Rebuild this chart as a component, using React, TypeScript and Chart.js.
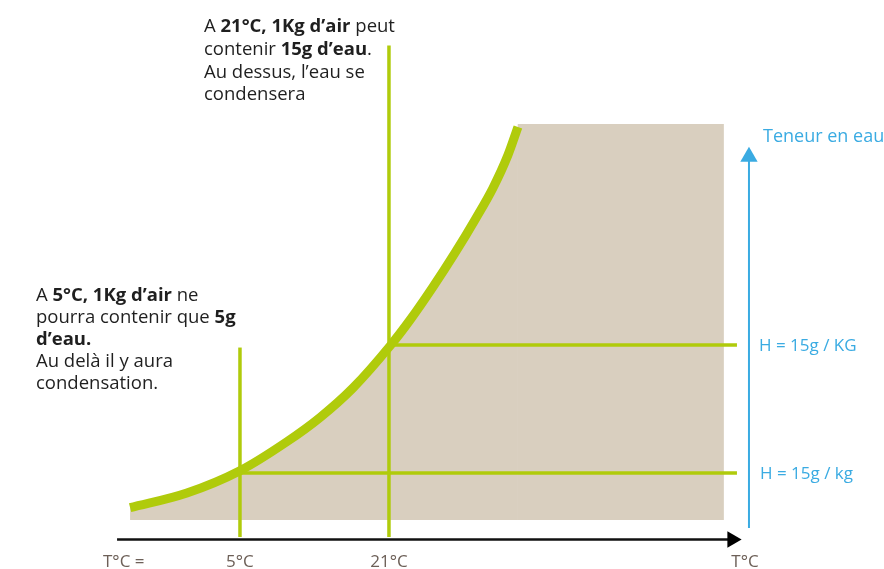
import React, { useEffect, useRef } from "react";
import { Chart, registerables } from "chart.js";

Chart.register(...registerables);

// Saturation curve: temperature (°C) vs max water content (g / kg of air)
const curveTemps = [-6.8, -0.7, 5.0, 10.05, 13.6, 17.13, 21.2, 23.26, 25.72, 28.09, 30.23, 32.17, 33.78, 34.85];
const curveWater = [2.29, 3.44, 5.18, 7.45, 9.34, 11.64, 15.0, 16.95, 19.53, 22.19, 24.77, 27.27, 29.84, 32.03];

// Reference temperatures and their water content
const refTemps = [5, 21];
const refWater = [5, 15];
const refTopWater = [14.8, 38.4];

// Condensation zone limits
const zoneTopWater = 32.27;
const zoneRightTemp = 56.97;
const zoneBottomWater = 1.33;

// Axes (arrows)
const axisStartTemp = -8.2;
const axisEndTemp = 57.8;
const axisTipTemp = 58.8;
const axisWater = -0.2;
const waterAxisTemp = 59.66;
const waterAxisBottom = 0.7;
const waterAxisTop = 29.7;
const lineEndTemp = 58.37;

// Tick labels
const tickTemps = [5, 21];
const tickLabels = ["5°C", "21°C"];
const axisStartLabel = "T°C =";
const axisEndLabel = "T°C";
const waterAxisLabel = "Teneur en eau";
const waterLabels = ["H = 15g / KG", "H = 15g / kg"];

// Annotations: [text, bold]
const topNote: [string, boolean][][] = [
  [["A ", false], ["21°C, 1Kg d’air", true], [" peut", false]],
  [["contenir ", false], ["15g d’eau", true], [".", false]],
  [["Au dessus, l’eau se", false]],
  [["condensera", false]],
];
const leftNote: [string, boolean][][] = [
  [["A ", false], ["5°C, 1Kg d’air", true], [" ne", false]],
  [["pourra contenir que ", false], ["5g", true]],
  [["d’eau.", true]],
  [["Au delà il y aura", false]],
  [["condensation.", false]],
];

const GREEN = "#b0cb0b";
const BEIGE = "#d9cfbf";
const BLUE = "#3aabe2";
const FONT = "'Open Sans', sans-serif";

const X_MIN = -20.77;
const X_MAX = 74.16;
const Y_MIN = -2.5;
const Y_MAX = 41.95;

const textPlugin = {
  id: "texts",
  afterDraw(chart: any) {
    const ctx = chart.ctx as CanvasRenderingContext2D;
    const xs = chart.scales.x;
    const ys = chart.scales.y;
    ctx.save();
    ctx.textBaseline = "middle";
    ctx.textAlign = "left";

    const drawRich = (segs: [string, boolean][], x: number, y: number, size: number, color: string) => {
      let cx = x;
      ctx.fillStyle = color;
      for (const [t, b] of segs) {
        ctx.font = `${b ? "bold " : ""}${size}px ${FONT}`;
        ctx.fillText(t, cx, y);
        cx += ctx.measureText(t).width;
      }
    };

    topNote.forEach((line, i) => drawRich(line, 204, 27 + i * 22.7, 18.5, "#1f1f1f"));
    leftNote.forEach((line, i) => drawRich(line, 36, 296 + i * 22, 18.5, "#1f1f1f"));

    // Blue labels
    ctx.fillStyle = BLUE;
    ctx.font = `18px ${FONT}`;
    ctx.fillText(waterAxisLabel, 763, 137);
    ctx.font = `17px ${FONT}`;
    ctx.fillText(waterLabels[0], 759, ys.getPixelForValue(refWater[1]) + 1);
    ctx.fillText(waterLabels[1], 760, ys.getPixelForValue(refWater[0]) + 1);

    // Temperature labels
    ctx.fillStyle = "#6d6058";
    ctx.font = `17px ${FONT}`;
    ctx.textAlign = "center";
    tickTemps.forEach((t, i) => ctx.fillText(tickLabels[i], xs.getPixelForValue(t), 562));
    ctx.fillText(axisEndLabel, 745, 562);
    ctx.textAlign = "left";
    ctx.fillText(axisStartLabel, 103, 562);
    ctx.restore();
  },
};

export default function App() {
  const ref = useRef<HTMLCanvasElement>(null);

  useEffect(() => {
    if (!ref.current) return;
    const curve = curveTemps.map((t, i) => ({ x: t, y: curveWater[i] }));
    const lastTemp = curveTemps[curveTemps.length - 1];
    const lineDs = (data: { x: number; y: number }[], color: string, width: number, order: number) => ({
      data,
      borderColor: color,
      borderWidth: width,
      pointRadius: 0,
      fill: false,
      tension: 0,
      order,
    });
    const arrowDs = (x: number, y: number, rot: number, color: string, r: number) => ({
      data: [{ x, y }],
      showLine: false,
      pointStyle: "triangle",
      pointRadius: r,
      pointRotation: rot,
      pointBackgroundColor: color,
      pointBorderColor: color,
      pointBorderWidth: 0,
      order: 0,
    });

    const chart = new Chart(ref.current, {
      type: "line",
      data: {
        datasets: [
          {
            data: [{ x: lastTemp - 0.05, y: zoneTopWater }, { x: zoneRightTemp, y: zoneTopWater }],
            borderWidth: 0,
            borderColor: "rgba(0,0,0,0)",
            backgroundColor: BEIGE,
            pointRadius: 0,
            fill: { value: zoneBottomWater },
            tension: 0,
            order: 10,
          } as any,
          lineDs([{ x: refTemps[0], y: 0 }, { x: refTemps[0], y: refTopWater[0] }], GREEN, 3.5, 5),
          lineDs([{ x: refTemps[1], y: 0 }, { x: refTemps[1], y: refTopWater[1] }], GREEN, 3.5, 5),
          lineDs([{ x: refTemps[0], y: refWater[0] }, { x: lineEndTemp, y: refWater[0] }], GREEN, 3.5, 5),
          lineDs([{ x: refTemps[1], y: refWater[1] }, { x: lineEndTemp, y: refWater[1] }], GREEN, 3.5, 5),
          {
            data: curve,
            borderColor: GREEN,
            backgroundColor: BEIGE,
            borderWidth: 9,
            pointRadius: 0,
            fill: { value: zoneBottomWater },
            cubicInterpolationMode: "monotone",
            borderCapStyle: "butt",
            order: 1,
          } as any,
          lineDs([{ x: axisStartTemp, y: axisWater }, { x: axisEndTemp, y: axisWater }], "#111111", 2.5, 2),
          lineDs([{ x: waterAxisTemp, y: waterAxisBottom }, { x: waterAxisTemp, y: waterAxisTop }], BLUE, 2, 2),
          arrowDs(axisTipTemp - 0.95, axisWater, 90, "#000000", 9.5),
          arrowDs(waterAxisTemp, waterAxisTop, 0, BLUE, 10),
        ] as any,
      },
      options: {
        animation: false,
        responsive: true,
        maintainAspectRatio: false,
        layout: { padding: 0, autoPadding: false },
        plugins: {
          legend: { display: false },
          tooltip: { enabled: false },
          filler: { drawTime: "beforeDatasetsDraw" },
        },
        scales: {
          x: { type: "linear", min: X_MIN, max: X_MAX, display: false },
          y: { type: "linear", min: Y_MIN, max: Y_MAX, display: false },
        },
      } as any,
      plugins: [textPlugin],
    });
    return () => chart.destroy();
  }, []);

  return (
    <div style={{ position: "absolute", left: 0, top: 0, width: 884, height: 569, background: "#ffffff" }}>
      <canvas ref={ref} />
    </div>
  );
}
